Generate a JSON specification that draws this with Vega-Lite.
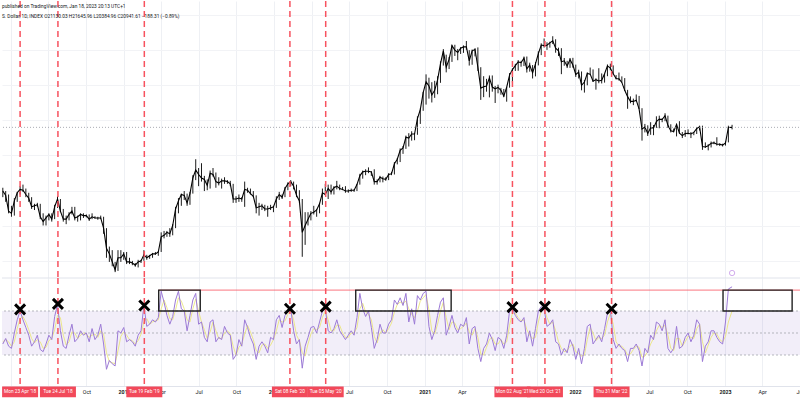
{
"$schema":"https://vega.github.io/schema/vega-lite/v6.json",
"background":"white",
"padding":0,
"spacing":0,
"bounds":"flush",
"config":{"view":{"stroke":null},"font":"Roboto"},
"datasets":{
"price":[
{"d":"2018-03-12","c":9100,"h":9500,"l":8400},
{"d":"2018-03-19","c":8600,"h":9100,"l":7900},
{"d":"2018-03-26","c":7000,"h":8700,"l":6800},
{"d":"2018-04-02","c":6800,"h":7500,"l":6500},
{"d":"2018-04-09","c":8000,"h":8300,"l":6600},
{"d":"2018-04-16","c":8900,"h":9000,"l":7900},
{"d":"2018-04-23","c":9300,"h":9700,"l":8700},
{"d":"2018-04-30","c":9200,"h":9900,"l":9000},
{"d":"2018-05-07","c":8700,"h":9400,"l":8400},
{"d":"2018-05-14","c":8300,"h":8900,"l":7900},
{"d":"2018-05-21","c":7400,"h":8400,"l":7200},
{"d":"2018-05-28","c":7500,"h":7700,"l":7100},
{"d":"2018-06-04","c":7600,"h":7800,"l":7400},
{"d":"2018-06-11","c":6500,"h":7700,"l":6300},
{"d":"2018-06-18","c":6100,"h":6800,"l":5800},
{"d":"2018-06-25","c":6400,"h":6600,"l":5800},
{"d":"2018-07-02","c":6700,"h":6800,"l":6200},
{"d":"2018-07-09","c":6300,"h":6800,"l":6100},
{"d":"2018-07-16","c":7400,"h":7600,"l":6300},
{"d":"2018-07-23","c":8200,"h":8500,"l":7300},
{"d":"2018-07-30","c":7000,"h":8200,"l":6900},
{"d":"2018-08-06","c":6300,"h":7200,"l":6100},
{"d":"2018-08-13","c":6300,"h":6600,"l":5900},
{"d":"2018-08-20","c":6700,"h":6900,"l":6200},
{"d":"2018-08-27","c":7000,"h":7400,"l":6700},
{"d":"2018-09-03","c":6400,"h":7400,"l":6200},
{"d":"2018-09-10","c":6500,"h":6600,"l":6100},
{"d":"2018-09-17","c":6700,"h":6800,"l":6200},
{"d":"2018-09-24","c":6600,"h":6800,"l":6400},
{"d":"2018-10-01","c":6600,"h":6700,"l":6450},
{"d":"2018-10-08","c":6300,"h":6700,"l":6150},
{"d":"2018-10-15","c":6500,"h":6800,"l":6300},
{"d":"2018-10-22","c":6400,"h":6550,"l":6350},
{"d":"2018-10-29","c":6400,"h":6500,"l":6250},
{"d":"2018-11-05","c":6400,"h":6600,"l":6300},
{"d":"2018-11-12","c":5600,"h":6500,"l":5200},
{"d":"2018-11-19","c":4300,"h":5600,"l":3800},
{"d":"2018-11-26","c":4000,"h":4400,"l":3600},
{"d":"2018-12-03","c":3600,"h":4200,"l":3400},
{"d":"2018-12-10","c":3250,"h":3600,"l":3150},
{"d":"2018-12-17","c":3800,"h":4200,"l":3200},
{"d":"2018-12-24","c":3800,"h":4200,"l":3600},
{"d":"2018-12-31","c":4000,"h":4100,"l":3700},
{"d":"2019-01-07","c":3600,"h":4100,"l":3500},
{"d":"2019-01-14","c":3600,"h":3800,"l":3500},
{"d":"2019-01-21","c":3550,"h":3650,"l":3450},
{"d":"2019-01-28","c":3450,"h":3550,"l":3380},
{"d":"2019-02-04","c":3600,"h":3700,"l":3350},
{"d":"2019-02-11","c":3650,"h":3700,"l":3550},
{"d":"2019-02-18","c":3950,"h":4200,"l":3650},
{"d":"2019-02-25","c":3800,"h":3950,"l":3700},
{"d":"2019-03-04","c":3900,"h":3950,"l":3750},
{"d":"2019-03-11","c":4000,"h":4050,"l":3800},
{"d":"2019-03-18","c":4000,"h":4100,"l":3950},
{"d":"2019-03-25","c":4100,"h":4150,"l":3900},
{"d":"2019-04-01","c":5000,"h":5300,"l":4100},
{"d":"2019-04-08","c":5100,"h":5400,"l":4900},
{"d":"2019-04-15","c":5300,"h":5400,"l":5000},
{"d":"2019-04-22","c":5200,"h":5600,"l":5000},
{"d":"2019-04-29","c":5800,"h":5900,"l":5100},
{"d":"2019-05-06","c":7200,"h":7400,"l":5600},
{"d":"2019-05-13","c":8000,"h":8300,"l":6800},
{"d":"2019-05-20","c":8700,"h":8800,"l":7500},
{"d":"2019-05-27","c":8600,"h":9100,"l":8100},
{"d":"2019-06-03","c":7800,"h":8800,"l":7500},
{"d":"2019-06-10","c":8800,"h":9000,"l":7600},
{"d":"2019-06-17","c":10800,"h":11200,"l":8800},
{"d":"2019-06-24","c":12000,"h":13800,"l":10500},
{"d":"2019-07-01","c":11300,"h":12300,"l":9700},
{"d":"2019-07-08","c":10800,"h":13100,"l":10300},
{"d":"2019-07-15","c":10600,"h":11100,"l":9100},
{"d":"2019-07-22","c":9800,"h":10600,"l":9200},
{"d":"2019-07-29","c":11500,"h":11900,"l":9400},
{"d":"2019-08-05","c":11300,"h":12300,"l":11000},
{"d":"2019-08-12","c":10300,"h":11600,"l":9500},
{"d":"2019-08-19","c":10100,"h":10900,"l":9800},
{"d":"2019-08-26","c":10400,"h":10700,"l":9400},
{"d":"2019-09-02","c":10400,"h":10900,"l":10000},
{"d":"2019-09-09","c":10300,"h":10500,"l":10000},
{"d":"2019-09-16","c":10000,"h":10400,"l":9700},
{"d":"2019-09-23","c":8200,"h":10000,"l":7800},
{"d":"2019-09-30","c":8200,"h":8500,"l":7800},
{"d":"2019-10-07","c":8300,"h":8700,"l":7900},
{"d":"2019-10-14","c":8200,"h":8400,"l":7900},
{"d":"2019-10-21","c":9300,"h":10300,"l":7400},
{"d":"2019-10-28","c":9200,"h":9500,"l":8900},
{"d":"2019-11-04","c":8800,"h":9400,"l":8700},
{"d":"2019-11-11","c":8500,"h":9100,"l":8400},
{"d":"2019-11-18","c":7300,"h":8600,"l":6800},
{"d":"2019-11-25","c":7400,"h":7800,"l":6600},
{"d":"2019-12-02","c":7500,"h":7700,"l":7100},
{"d":"2019-12-09","c":7200,"h":7600,"l":7000},
{"d":"2019-12-16","c":7200,"h":7500,"l":6500},
{"d":"2019-12-23","c":7300,"h":7600,"l":7100},
{"d":"2019-12-30","c":7400,"h":7500,"l":6900},
{"d":"2020-01-06","c":8200,"h":8500,"l":7300},
{"d":"2020-01-13","c":8700,"h":9000,"l":8100},
{"d":"2020-01-20","c":8400,"h":8700,"l":8200},
{"d":"2020-01-27","c":9400,"h":9600,"l":8400},
{"d":"2020-02-03","c":10000,"h":10200,"l":9200},
{"d":"2020-02-10","c":10300,"h":10500,"l":9700},
{"d":"2020-02-17","c":9700,"h":10300,"l":9300},
{"d":"2020-02-24","c":8600,"h":9900,"l":8400},
{"d":"2020-03-02","c":8000,"h":9200,"l":7800},
{"d":"2020-03-09","c":5300,"h":8200,"l":3850},
{"d":"2020-03-16","c":5800,"h":6900,"l":4500},
{"d":"2020-03-23","c":6300,"h":6900,"l":5800},
{"d":"2020-03-30","c":6800,"h":7000,"l":6200},
{"d":"2020-04-06","c":6900,"h":7500,"l":6700},
{"d":"2020-04-13","c":7100,"h":7200,"l":6500},
{"d":"2020-04-20","c":7700,"h":7800,"l":6800},
{"d":"2020-04-27","c":8900,"h":9400,"l":7600},
{"d":"2020-05-04","c":8700,"h":10000,"l":8600},
{"d":"2020-05-11","c":9400,"h":9900,"l":8200},
{"d":"2020-05-18","c":9000,"h":9900,"l":8700},
{"d":"2020-05-25","c":9500,"h":9700,"l":8700},
{"d":"2020-06-01","c":9700,"h":10400,"l":9300},
{"d":"2020-06-08","c":9400,"h":9900,"l":9200},
{"d":"2020-06-15","c":9300,"h":9600,"l":9200},
{"d":"2020-06-22","c":9100,"h":9700,"l":8900},
{"d":"2020-06-29","c":9100,"h":9300,"l":8900},
{"d":"2020-07-06","c":9200,"h":9400,"l":9000},
{"d":"2020-07-13","c":9200,"h":9300,"l":9000},
{"d":"2020-07-20","c":9900,"h":10000,"l":9100},
{"d":"2020-07-27","c":11100,"h":11400,"l":9900},
{"d":"2020-08-03","c":11700,"h":11900,"l":10700},
{"d":"2020-08-10","c":11800,"h":12100,"l":11200},
{"d":"2020-08-17","c":11800,"h":12400,"l":11500},
{"d":"2020-08-24","c":11700,"h":11800,"l":11100},
{"d":"2020-08-31","c":10300,"h":12100,"l":9900},
{"d":"2020-09-07","c":10300,"h":10600,"l":9900},
{"d":"2020-09-14","c":10900,"h":11100,"l":10200},
{"d":"2020-09-21","c":10700,"h":11000,"l":10200},
{"d":"2020-09-28","c":10600,"h":10900,"l":10400},
{"d":"2020-10-05","c":11300,"h":11500,"l":10500},
{"d":"2020-10-12","c":11400,"h":11700,"l":11200},
{"d":"2020-10-19","c":13000,"h":13300,"l":11300},
{"d":"2020-10-26","c":13800,"h":14000,"l":12900},
{"d":"2020-11-02","c":15500,"h":15900,"l":13300},
{"d":"2020-11-09","c":16000,"h":16400,"l":14800},
{"d":"2020-11-16","c":18400,"h":18800,"l":15800},
{"d":"2020-11-23","c":18200,"h":19400,"l":16300},
{"d":"2020-11-30","c":19200,"h":19900,"l":17600},
{"d":"2020-12-07","c":19200,"h":19400,"l":17700},
{"d":"2020-12-14","c":23500,"h":24200,"l":19000},
{"d":"2020-12-21","c":26400,"h":26800,"l":21900},
{"d":"2020-12-28","c":33000,"h":33300,"l":26000},
{"d":"2021-01-04","c":38000,"h":41900,"l":28200},
{"d":"2021-01-11","c":36000,"h":40100,"l":30500},
{"d":"2021-01-18","c":32000,"h":37800,"l":29000},
{"d":"2021-01-25","c":34000,"h":38500,"l":30800},
{"d":"2021-02-01","c":39000,"h":40900,"l":32300},
{"d":"2021-02-08","c":48000,"h":49700,"l":37500},
{"d":"2021-02-15","c":57000,"h":58300,"l":47000},
{"d":"2021-02-22","c":46000,"h":54200,"l":43000},
{"d":"2021-03-01","c":51000,"h":52600,"l":44900},
{"d":"2021-03-08","c":61000,"h":61800,"l":49300},
{"d":"2021-03-15","c":57500,"h":61700,"l":53300},
{"d":"2021-03-22","c":55800,"h":58400,"l":50400},
{"d":"2021-03-29","c":59000,"h":59800,"l":54700},
{"d":"2021-04-05","c":60000,"h":61200,"l":55500},
{"d":"2021-04-12","c":60000,"h":64800,"l":57800},
{"d":"2021-04-19","c":50000,"h":57500,"l":47000},
{"d":"2021-04-26","c":57000,"h":58000,"l":47500},
{"d":"2021-05-03","c":58000,"h":59000,"l":53000},
{"d":"2021-05-10","c":46000,"h":59600,"l":43800},
{"d":"2021-05-17","c":35000,"h":46000,"l":30000},
{"d":"2021-05-24","c":35600,"h":40900,"l":31100},
{"d":"2021-05-31","c":36000,"h":39500,"l":33400},
{"d":"2021-06-07","c":40000,"h":41300,"l":31000},
{"d":"2021-06-14","c":35500,"h":41300,"l":33400},
{"d":"2021-06-21","c":34700,"h":36000,"l":28800},
{"d":"2021-06-28","c":35300,"h":36600,"l":32700},
{"d":"2021-07-05","c":34000,"h":35100,"l":32100},
{"d":"2021-07-12","c":31500,"h":34600,"l":31100},
{"d":"2021-07-19","c":35400,"h":35400,"l":29300},
{"d":"2021-07-26","c":41500,"h":42600,"l":35200},
{"d":"2021-08-02","c":44600,"h":45300,"l":37600},
{"d":"2021-08-09","c":47000,"h":48100,"l":43800},
{"d":"2021-08-16","c":49300,"h":50500,"l":43900},
{"d":"2021-08-23","c":48800,"h":50000,"l":46300},
{"d":"2021-08-30","c":51800,"h":52900,"l":46700},
{"d":"2021-09-06","c":45000,"h":52900,"l":42900},
{"d":"2021-09-13","c":47300,"h":48800,"l":43400},
{"d":"2021-09-20","c":42700,"h":47300,"l":39700},
{"d":"2021-09-27","c":48000,"h":49200,"l":40800},
{"d":"2021-10-04","c":55000,"h":56600,"l":47100},
{"d":"2021-10-11","c":61500,"h":62900,"l":53900},
{"d":"2021-10-18","c":61000,"h":67000,"l":59500},
{"d":"2021-10-25","c":61300,"h":63700,"l":57700},
{"d":"2021-11-01","c":63300,"h":64200,"l":59400},
{"d":"2021-11-08","c":65000,"h":69000,"l":62300},
{"d":"2021-11-15","c":59000,"h":66300,"l":55600},
{"d":"2021-11-22","c":57000,"h":59400,"l":53300},
{"d":"2021-11-29","c":49400,"h":59000,"l":42000},
{"d":"2021-12-06","c":50000,"h":51900,"l":46900},
{"d":"2021-12-13","c":46700,"h":50000,"l":45500},
{"d":"2021-12-20","c":50800,"h":51900,"l":45600},
{"d":"2021-12-27","c":47300,"h":52000,"l":45700},
{"d":"2022-01-03","c":41800,"h":47600,"l":40500},
{"d":"2022-01-10","c":43100,"h":44500,"l":39700},
{"d":"2022-01-17","c":36300,"h":43500,"l":34000},
{"d":"2022-01-24","c":37900,"h":38900,"l":33000},
{"d":"2022-01-31","c":42400,"h":43000,"l":36300},
{"d":"2022-02-07","c":42000,"h":45800,"l":41700},
{"d":"2022-02-14","c":38300,"h":44700,"l":38000},
{"d":"2022-02-21","c":39100,"h":39800,"l":34300},
{"d":"2022-02-28","c":38400,"h":45400,"l":37300},
{"d":"2022-03-07","c":38800,"h":42400,"l":37200},
{"d":"2022-03-14","c":42200,"h":42300,"l":37600},
{"d":"2022-03-21","c":46800,"h":47700,"l":40900},
{"d":"2022-03-28","c":45500,"h":48200,"l":44200},
{"d":"2022-04-04","c":42200,"h":47100,"l":41900},
{"d":"2022-04-11","c":39700,"h":41500,"l":39200},
{"d":"2022-04-18","c":39500,"h":42900,"l":38600},
{"d":"2022-04-25","c":37700,"h":40800,"l":37600},
{"d":"2022-05-02","c":34000,"h":39900,"l":33700},
{"d":"2022-05-09","c":31300,"h":34200,"l":26700},
{"d":"2022-05-16","c":29400,"h":31400,"l":28700},
{"d":"2022-05-23","c":29400,"h":30500,"l":28000},
{"d":"2022-05-30","c":29900,"h":32200,"l":29300},
{"d":"2022-06-06","c":26600,"h":31600,"l":26600},
{"d":"2022-06-13","c":20500,"h":26900,"l":17600},
{"d":"2022-06-20","c":21000,"h":21900,"l":19600},
{"d":"2022-06-27","c":19300,"h":21500,"l":18700},
{"d":"2022-07-04","c":20800,"h":22400,"l":19000},
{"d":"2022-07-11","c":20800,"h":21600,"l":18900},
{"d":"2022-07-18","c":22600,"h":24200,"l":20800},
{"d":"2022-07-25","c":23300,"h":24400,"l":20700},
{"d":"2022-08-01","c":23200,"h":23600,"l":22400},
{"d":"2022-08-08","c":24400,"h":25200,"l":22700},
{"d":"2022-08-15","c":21500,"h":24400,"l":20800},
{"d":"2022-08-22","c":20000,"h":21800,"l":19600},
{"d":"2022-08-29","c":19800,"h":20600,"l":19600},
{"d":"2022-09-05","c":21800,"h":21900,"l":18600},
{"d":"2022-09-12","c":19400,"h":22700,"l":19300},
{"d":"2022-09-19","c":18800,"h":19700,"l":18200},
{"d":"2022-09-26","c":19300,"h":20200,"l":18500},
{"d":"2022-10-03","c":19400,"h":20400,"l":19100},
{"d":"2022-10-10","c":19200,"h":19700,"l":18200},
{"d":"2022-10-17","c":19600,"h":19700,"l":18900},
{"d":"2022-10-24","c":20600,"h":21000,"l":19200},
{"d":"2022-10-31","c":21100,"h":21400,"l":20100},
{"d":"2022-11-07","c":16300,"h":21400,"l":15600},
{"d":"2022-11-14","c":16200,"h":17200,"l":16000},
{"d":"2022-11-21","c":16450,"h":16800,"l":15500},
{"d":"2022-11-28","c":17000,"h":17400,"l":16100},
{"d":"2022-12-05","c":17100,"h":17400,"l":16800},
{"d":"2022-12-12","c":16800,"h":18400,"l":16500},
{"d":"2022-12-19","c":16800,"h":17000,"l":16400},
{"d":"2022-12-26","c":16600,"h":16900,"l":16300},
{"d":"2023-01-02","c":17100,"h":17400,"l":16500},
{"d":"2023-01-09","c":20900,"h":21400,"l":17200},
{"d":"2023-01-18","c":20941.61,"h":21645.96,"l":20384.96}
],
"rsi":[
{"d":"2018-03-12","r":40,"m":42},
{"d":"2018-03-19","r":45,"m":44},
{"d":"2018-03-26","r":38,"m":42},
{"d":"2018-04-02","r":36,"m":38},
{"d":"2018-04-09","r":50,"m":42},
{"d":"2018-04-16","r":62,"m":54},
{"d":"2018-04-23","r":70,"m":63},
{"d":"2018-04-30","r":62,"m":65},
{"d":"2018-05-07","r":55,"m":60},
{"d":"2018-05-14","r":48,"m":53},
{"d":"2018-05-21","r":38,"m":45},
{"d":"2018-05-28","r":42,"m":41},
{"d":"2018-06-04","r":48,"m":44},
{"d":"2018-06-11","r":35,"m":42},
{"d":"2018-06-18","r":33,"m":36},
{"d":"2018-06-25","r":40,"m":37},
{"d":"2018-07-02","r":48,"m":43},
{"d":"2018-07-09","r":44,"m":45},
{"d":"2018-07-16","r":65,"m":53},
{"d":"2018-07-23","r":76,"m":66},
{"d":"2018-07-30","r":52,"m":64},
{"d":"2018-08-06","r":38,"m":48},
{"d":"2018-08-13","r":36,"m":39},
{"d":"2018-08-20","r":48,"m":42},
{"d":"2018-08-27","r":58,"m":51},
{"d":"2018-09-03","r":42,"m":50},
{"d":"2018-09-10","r":45,"m":45},
{"d":"2018-09-17","r":52,"m":48},
{"d":"2018-09-24","r":48,"m":50},
{"d":"2018-10-01","r":50,"m":49},
{"d":"2018-10-08","r":42,"m":46},
{"d":"2018-10-15","r":54,"m":48},
{"d":"2018-10-22","r":44,"m":49},
{"d":"2018-10-29","r":48,"m":46},
{"d":"2018-11-05","r":58,"m":52},
{"d":"2018-11-12","r":40,"m":49},
{"d":"2018-11-19","r":17,"m":32},
{"d":"2018-11-26","r":25,"m":24},
{"d":"2018-12-03","r":22,"m":23},
{"d":"2018-12-10","r":20,"m":22},
{"d":"2018-12-17","r":52,"m":34},
{"d":"2018-12-24","r":50,"m":47},
{"d":"2018-12-31","r":55,"m":51},
{"d":"2019-01-07","r":42,"m":48},
{"d":"2019-01-14","r":44,"m":44},
{"d":"2019-01-21","r":42,"m":43},
{"d":"2019-01-28","r":38,"m":40},
{"d":"2019-02-04","r":48,"m":43},
{"d":"2019-02-11","r":52,"m":49},
{"d":"2019-02-18","r":75,"m":60},
{"d":"2019-02-25","r":56,"m":63},
{"d":"2019-03-04","r":58,"m":58},
{"d":"2019-03-11","r":62,"m":60},
{"d":"2019-03-18","r":60,"m":61},
{"d":"2019-03-25","r":64,"m":62},
{"d":"2019-04-01","r":88,"m":72},
{"d":"2019-04-08","r":78,"m":80},
{"d":"2019-04-15","r":66,"m":73},
{"d":"2019-04-22","r":58,"m":63},
{"d":"2019-04-29","r":65,"m":62},
{"d":"2019-05-06","r":80,"m":71},
{"d":"2019-05-13","r":88,"m":82},
{"d":"2019-05-20","r":72,"m":79},
{"d":"2019-05-27","r":70,"m":72},
{"d":"2019-06-03","r":52,"m":62},
{"d":"2019-06-10","r":66,"m":60},
{"d":"2019-06-17","r":80,"m":72},
{"d":"2019-06-24","r":86,"m":81},
{"d":"2019-07-01","r":58,"m":70},
{"d":"2019-07-08","r":60,"m":60},
{"d":"2019-07-15","r":46,"m":53},
{"d":"2019-07-22","r":42,"m":45},
{"d":"2019-07-29","r":60,"m":51},
{"d":"2019-08-05","r":62,"m":60},
{"d":"2019-08-12","r":42,"m":52},
{"d":"2019-08-19","r":46,"m":45},
{"d":"2019-08-26","r":44,"m":45},
{"d":"2019-09-02","r":56,"m":50},
{"d":"2019-09-09","r":50,"m":52},
{"d":"2019-09-16","r":48,"m":49},
{"d":"2019-09-23","r":26,"m":38},
{"d":"2019-09-30","r":30,"m":30},
{"d":"2019-10-07","r":44,"m":37},
{"d":"2019-10-14","r":38,"m":40},
{"d":"2019-10-21","r":62,"m":49},
{"d":"2019-10-28","r":55,"m":57},
{"d":"2019-11-04","r":46,"m":51},
{"d":"2019-11-11","r":40,"m":44},
{"d":"2019-11-18","r":26,"m":34},
{"d":"2019-11-25","r":38,"m":32},
{"d":"2019-12-02","r":42,"m":39},
{"d":"2019-12-09","r":38,"m":40},
{"d":"2019-12-16","r":32,"m":36},
{"d":"2019-12-23","r":46,"m":39},
{"d":"2019-12-30","r":44,"m":44},
{"d":"2020-01-06","r":62,"m":52},
{"d":"2020-01-13","r":66,"m":62},
{"d":"2020-01-20","r":55,"m":60},
{"d":"2020-01-27","r":66,"m":61},
{"d":"2020-02-03","r":70,"m":67},
{"d":"2020-02-10","r":72,"m":70},
{"d":"2020-02-17","r":52,"m":62},
{"d":"2020-02-24","r":40,"m":48},
{"d":"2020-03-02","r":44,"m":43},
{"d":"2020-03-09","r":18,"m":32},
{"d":"2020-03-16","r":38,"m":29},
{"d":"2020-03-23","r":46,"m":40},
{"d":"2020-03-30","r":55,"m":49},
{"d":"2020-04-06","r":56,"m":54},
{"d":"2020-04-13","r":50,"m":53},
{"d":"2020-04-20","r":60,"m":55},
{"d":"2020-04-27","r":70,"m":64},
{"d":"2020-05-04","r":72,"m":70},
{"d":"2020-05-11","r":52,"m":62},
{"d":"2020-05-18","r":50,"m":52},
{"d":"2020-05-25","r":54,"m":52},
{"d":"2020-06-01","r":62,"m":57},
{"d":"2020-06-08","r":52,"m":57},
{"d":"2020-06-15","r":48,"m":50},
{"d":"2020-06-22","r":44,"m":46},
{"d":"2020-06-29","r":48,"m":46},
{"d":"2020-07-06","r":52,"m":50},
{"d":"2020-07-13","r":48,"m":50},
{"d":"2020-07-20","r":64,"m":55},
{"d":"2020-07-27","r":86,"m":72},
{"d":"2020-08-03","r":72,"m":77},
{"d":"2020-08-10","r":65,"m":69},
{"d":"2020-08-17","r":70,"m":67},
{"d":"2020-08-24","r":55,"m":62},
{"d":"2020-08-31","r":36,"m":47},
{"d":"2020-09-07","r":44,"m":41},
{"d":"2020-09-14","r":58,"m":50},
{"d":"2020-09-21","r":50,"m":53},
{"d":"2020-09-28","r":50,"m":50},
{"d":"2020-10-05","r":58,"m":54},
{"d":"2020-10-12","r":62,"m":59},
{"d":"2020-10-19","r":80,"m":69},
{"d":"2020-10-26","r":76,"m":76},
{"d":"2020-11-02","r":82,"m":78},
{"d":"2020-11-09","r":75,"m":77},
{"d":"2020-11-16","r":86,"m":79},
{"d":"2020-11-23","r":60,"m":72},
{"d":"2020-11-30","r":72,"m":67},
{"d":"2020-12-07","r":58,"m":64},
{"d":"2020-12-14","r":84,"m":70},
{"d":"2020-12-21","r":80,"m":79},
{"d":"2020-12-28","r":86,"m":82},
{"d":"2021-01-04","r":88,"m":85},
{"d":"2021-01-11","r":56,"m":71},
{"d":"2021-01-18","r":44,"m":52},
{"d":"2021-01-25","r":52,"m":49},
{"d":"2021-02-01","r":66,"m":58},
{"d":"2021-02-08","r":78,"m":70},
{"d":"2021-02-15","r":82,"m":78},
{"d":"2021-02-22","r":48,"m":64},
{"d":"2021-03-01","r":56,"m":53},
{"d":"2021-03-08","r":66,"m":60},
{"d":"2021-03-15","r":55,"m":59},
{"d":"2021-03-22","r":50,"m":53},
{"d":"2021-03-29","r":58,"m":54},
{"d":"2021-04-05","r":56,"m":56},
{"d":"2021-04-12","r":64,"m":59},
{"d":"2021-04-19","r":40,"m":51},
{"d":"2021-04-26","r":54,"m":48},
{"d":"2021-05-03","r":56,"m":54},
{"d":"2021-05-10","r":36,"m":46},
{"d":"2021-05-17","r":24,"m":31},
{"d":"2021-05-24","r":36,"m":30},
{"d":"2021-05-31","r":40,"m":37},
{"d":"2021-06-07","r":50,"m":44},
{"d":"2021-06-14","r":44,"m":46},
{"d":"2021-06-21","r":34,"m":40},
{"d":"2021-06-28","r":46,"m":40},
{"d":"2021-07-05","r":44,"m":44},
{"d":"2021-07-12","r":36,"m":40},
{"d":"2021-07-19","r":48,"m":42},
{"d":"2021-07-26","r":70,"m":57},
{"d":"2021-08-02","r":72,"m":68},
{"d":"2021-08-09","r":66,"m":68},
{"d":"2021-08-16","r":62,"m":64},
{"d":"2021-08-23","r":60,"m":61},
{"d":"2021-08-30","r":64,"m":62},
{"d":"2021-09-06","r":42,"m":53},
{"d":"2021-09-13","r":52,"m":48},
{"d":"2021-09-20","r":38,"m":45},
{"d":"2021-09-27","r":54,"m":46},
{"d":"2021-10-04","r":70,"m":60},
{"d":"2021-10-11","r":74,"m":70},
{"d":"2021-10-18","r":72,"m":72},
{"d":"2021-10-25","r":56,"m":64},
{"d":"2021-11-01","r":58,"m":58},
{"d":"2021-11-08","r":62,"m":60},
{"d":"2021-11-15","r":42,"m":52},
{"d":"2021-11-22","r":40,"m":42},
{"d":"2021-11-29","r":30,"m":36},
{"d":"2021-12-06","r":36,"m":33},
{"d":"2021-12-13","r":32,"m":34},
{"d":"2021-12-20","r":44,"m":38},
{"d":"2021-12-27","r":38,"m":40},
{"d":"2022-01-03","r":26,"m":33},
{"d":"2022-01-10","r":36,"m":31},
{"d":"2022-01-17","r":22,"m":29},
{"d":"2022-01-24","r":36,"m":30},
{"d":"2022-01-31","r":56,"m":44},
{"d":"2022-02-07","r":58,"m":55},
{"d":"2022-02-14","r":40,"m":50},
{"d":"2022-02-21","r":44,"m":43},
{"d":"2022-02-28","r":48,"m":46},
{"d":"2022-03-07","r":42,"m":45},
{"d":"2022-03-14","r":54,"m":48},
{"d":"2022-03-21","r":68,"m":60},
{"d":"2022-03-28","r":72,"m":68},
{"d":"2022-04-04","r":44,"m":58},
{"d":"2022-04-11","r":36,"m":42},
{"d":"2022-04-18","r":40,"m":38},
{"d":"2022-04-25","r":36,"m":38},
{"d":"2022-05-02","r":34,"m":35},
{"d":"2022-05-09","r":24,"m":30},
{"d":"2022-05-16","r":36,"m":31},
{"d":"2022-05-23","r":36,"m":35},
{"d":"2022-05-30","r":40,"m":38},
{"d":"2022-06-06","r":34,"m":37},
{"d":"2022-06-13","r":20,"m":28},
{"d":"2022-06-20","r":36,"m":29},
{"d":"2022-06-27","r":32,"m":33},
{"d":"2022-07-04","r":48,"m":40},
{"d":"2022-07-11","r":44,"m":45},
{"d":"2022-07-18","r":60,"m":52},
{"d":"2022-07-25","r":58,"m":57},
{"d":"2022-08-01","r":52,"m":55},
{"d":"2022-08-08","r":62,"m":57},
{"d":"2022-08-15","r":36,"m":48},
{"d":"2022-08-22","r":32,"m":36},
{"d":"2022-08-29","r":36,"m":34},
{"d":"2022-09-05","r":56,"m":45},
{"d":"2022-09-12","r":36,"m":45},
{"d":"2022-09-19","r":38,"m":38},
{"d":"2022-09-26","r":46,"m":42},
{"d":"2022-10-03","r":50,"m":47},
{"d":"2022-10-10","r":42,"m":46},
{"d":"2022-10-17","r":48,"m":45},
{"d":"2022-10-24","r":62,"m":54},
{"d":"2022-10-31","r":58,"m":58},
{"d":"2022-11-07","r":24,"m":42},
{"d":"2022-11-14","r":38,"m":32},
{"d":"2022-11-21","r":42,"m":39},
{"d":"2022-11-28","r":52,"m":46},
{"d":"2022-12-05","r":52,"m":50},
{"d":"2022-12-12","r":46,"m":49},
{"d":"2022-12-19","r":42,"m":44},
{"d":"2022-12-26","r":40,"m":42},
{"d":"2023-01-02","r":60,"m":47},
{"d":"2023-01-09","r":90,"m":60},
{"d":"2023-01-18","r":92,"m":70}
],
"events":[
{"d":"2018-04-23","lab":"Mon 23 Apr '18","xv":71.5},
{"d":"2018-07-24","lab":"Tue 24 Jul '18","xv":76.5},
{"d":"2019-02-19","lab":"Tue 19 Feb '19","xv":75},
{"d":"2020-02-08","lab":"Sat 08 Feb '20","xv":72},
{"d":"2020-05-05","lab":"Tue 05 May '20","xv":74},
{"d":"2021-08-02","lab":"Mon 02 Aug '21","xv":73.5},
{"d":"2021-10-20","lab":"Wed 20 Oct '21","xv":74},
{"d":"2022-03-31","lab":"Thu 31 Mar '22","xv":72}
],
"boxes":[
{"s":"2019-03-26","e":"2019-07-05"},
{"s":"2020-07-17","e":"2021-03-06"},
{"s":"2022-12-27","e":"2023-06-13"}
],
"levels":[{"v":70},{"v":50},{"v":30}],
"ray":[{"s":"2019-03-26","e":"2023-07-07","v":89}],
"last":[{"p":20941.61}],
"icon":[{"d":"2023-01-18","p":3114}]
},
"vconcat":[
{
"width":800,"height":277,
"title":{"text":["published on TradingView.com, Jan 18, 2023 20:13 UTC+1","S. Dollar, 1D, INDEX  O21130.03 H21645.96 L20384.96 C20941.61 −188.31 (−0.89%)"],"anchor":"start","frame":"group","orient":"top","offset":-19,"fontSize":4.8,"fontWeight":"normal","color":"#131722","lineHeight":10,"font":"Roboto"},
"layer":[
{"data":{"name":"price"},"mark":{"type":"rule","color":"#000","strokeWidth":0.9},
 "encoding":{
  "x":{"field":"d","type":"temporal","title":null,"scale":{"type":"utc","domain":[{"year":2018,"month":3,"date":10,"utc":true},{"year":2023,"month":7,"date":7,"utc":true}]},"axis":{"title":null,"labels":false,"ticks":false,"domain":false,"grid":true,"gridColor":"#eef0f4","tickCount":{"interval":"month","step":3}}},
  "y":{"field":"l","type":"quantitative","title":null,"scale":{"type":"log","domain":[2917,109400]},"axis":{"title":null,"labels":false,"ticks":false,"domain":false,"grid":true,"gridColor":"#f2f3f6","values":[3650,5780,9160,14520,23010,36470,57800,91600]}},
  "y2":{"field":"h"}}},
{"data":{"name":"price"},"mark":{"type":"line","color":"#000","strokeWidth":1.1},
 "encoding":{
  "x":{"field":"d","type":"temporal","title":null,"scale":{"type":"utc","domain":[{"year":2018,"month":3,"date":10,"utc":true},{"year":2023,"month":7,"date":7,"utc":true}]}},
  "y":{"field":"c","type":"quantitative","title":null,"scale":{"type":"log","domain":[2917,109400]}}}},
{"data":{"name":"last"},"mark":{"type":"rule","color":"#9598a1","strokeWidth":0.8,"strokeDash":[1,2]},
 "encoding":{"y":{"field":"p","type":"quantitative","title":null,"scale":{"type":"log","domain":[2917,109400]}}}},
{"data":{"name":"events"},"mark":{"type":"rule","color":"#f7525f","strokeWidth":1.5,"strokeDash":[6,4]},
 "encoding":{"x":{"field":"d","type":"temporal","title":null,"scale":{"type":"utc","domain":[{"year":2018,"month":3,"date":10,"utc":true},{"year":2023,"month":7,"date":7,"utc":true}]}}}},
{"data":{"name":"icon"},"mark":{"type":"point","shape":"circle","filled":false,"color":"#b06ee0","strokeWidth":0.8,"size":28},
 "encoding":{
  "x":{"field":"d","type":"temporal","title":null,"scale":{"type":"utc","domain":[{"year":2018,"month":3,"date":10,"utc":true},{"year":2023,"month":7,"date":7,"utc":true}]}},
  "y":{"field":"p","type":"quantitative","title":null,"scale":{"type":"log","domain":[2917,109400]}}}}
]
},
{
"width":800,"height":108,
"layer":[
{"data":{"name":"rsi"},"mark":{"type":"line","color":"#e6df6e","strokeWidth":1,"opacity":0},
 "encoding":{
  "x":{"field":"d","type":"temporal","title":null,"scale":{"type":"utc","domain":[{"year":2018,"month":3,"date":10,"utc":true},{"year":2023,"month":7,"date":7,"utc":true}]},"axis":{"title":null,"grid":true,"gridColor":"#eef0f4","tickCount":{"interval":"month","step":3},"ticks":false,"domain":true,"domainColor":"#e0e3eb","labelFontSize":5.3,"labelColor":"#131722","labelPadding":3,"labelFont":"Roboto","labelFlush":false,"labelOverlap":false,"labelExpr":"utcmonth(datum.value) == 0 ? utcFormat(datum.value, '%Y') : utcFormat(datum.value, '%b')","labelFontWeight":{"condition":{"test":"utcmonth(datum.value) == 0","value":"bold"},"value":"normal"}}},
  "y":{"field":"m","type":"quantitative","title":null,"scale":{"domain":[1.8,100]},"axis":null}}},
{"data":{"name":"levels"},"transform":[{"filter":"datum.v == 50"}],"mark":{"type":"rect","color":"#7e57c2","opacity":0.1},
 "encoding":{"y":{"datum":30,"type":"quantitative","scale":{"domain":[1.8,100]},"axis":null},"y2":{"datum":70}}},
{"data":{"name":"levels"},"mark":{"type":"rule","color":"#a3a6af","strokeWidth":0.8,"strokeDash":[2,2]},
 "encoding":{"y":{"field":"v","type":"quantitative","title":null,"scale":{"domain":[1.8,100]},"axis":null}}},
{"data":{"name":"ray"},"mark":{"type":"rule","color":"#e0e3eb","strokeWidth":1},
 "encoding":{"y":{"datum":100,"type":"quantitative","scale":{"domain":[1.8,100]},"axis":null}}},
{"data":{"name":"rsi"},"mark":{"type":"line","color":"#ebe57f","strokeWidth":1,"opacity":0.9},
 "encoding":{
  "x":{"field":"d","type":"temporal","title":null,"scale":{"type":"utc","domain":[{"year":2018,"month":3,"date":10,"utc":true},{"year":2023,"month":7,"date":7,"utc":true}]}},
  "y":{"field":"m","type":"quantitative","title":null,"scale":{"domain":[1.8,100]},"axis":null}}},
{"data":{"name":"rsi"},"mark":{"type":"line","color":"#9c7ad6","strokeWidth":1},
 "encoding":{
  "x":{"field":"d","type":"temporal","title":null,"scale":{"type":"utc","domain":[{"year":2018,"month":3,"date":10,"utc":true},{"year":2023,"month":7,"date":7,"utc":true}]}},
  "y":{"field":"r","type":"quantitative","title":null,"scale":{"domain":[1.8,100]},"axis":null}}},
{"data":{"name":"ray"},"mark":{"type":"rule","color":"#f7525f","strokeWidth":1,"opacity":0.8},
 "encoding":{
  "x":{"field":"s","type":"temporal","title":null,"scale":{"type":"utc","domain":[{"year":2018,"month":3,"date":10,"utc":true},{"year":2023,"month":7,"date":7,"utc":true}]}},
  "x2":{"field":"e"},
  "y":{"field":"v","type":"quantitative","title":null,"scale":{"domain":[1.8,100]},"axis":null}}},
{"data":{"name":"boxes"},"mark":{"type":"rect","fill":null,"fillOpacity":0,"stroke":"#222","strokeWidth":1.4},
 "encoding":{
  "x":{"field":"s","type":"temporal","title":null,"scale":{"type":"utc","domain":[{"year":2018,"month":3,"date":10,"utc":true},{"year":2023,"month":7,"date":7,"utc":true}]}},
  "x2":{"field":"e"},
  "y":{"datum":70,"type":"quantitative","scale":{"domain":[1.8,100]},"axis":null},
  "y2":{"datum":89}}},
{"data":{"name":"events"},"mark":{"type":"rule","color":"#f7525f","strokeWidth":1.5,"strokeDash":[6,4]},
 "encoding":{"x":{"field":"d","type":"temporal","title":null,"scale":{"type":"utc","domain":[{"year":2018,"month":3,"date":10,"utc":true},{"year":2023,"month":7,"date":7,"utc":true}]}}}},
{"data":{"name":"events"},"mark":{"type":"point","shape":"M-1,-1L1,1M-1,1L1,-1","filled":false,"stroke":"#000","strokeWidth":3,"size":100,"opacity":1},
 "encoding":{
  "x":{"field":"d","type":"temporal","title":null,"scale":{"type":"utc","domain":[{"year":2018,"month":3,"date":10,"utc":true},{"year":2023,"month":7,"date":7,"utc":true}]}},
  "y":{"field":"xv","type":"quantitative","title":null,"scale":{"domain":[1.8,100]},"axis":null}}},
{"data":{"name":"events"},"mark":{"type":"point","shape":"M-1,-0.3L1,-0.3L1,0.3L-1,0.3Z","filled":true,"color":"#f2495a","opacity":1,"strokeWidth":0,"size":1296},
 "encoding":{
  "x":{"field":"d","type":"temporal","title":null,"scale":{"type":"utc","domain":[{"year":2018,"month":3,"date":10,"utc":true},{"year":2023,"month":7,"date":7,"utc":true}]}},
  "y":{"datum":-3.6,"type":"quantitative","scale":{"domain":[1.8,100]},"axis":null}}},
{"data":{"name":"events"},"mark":{"type":"text","color":"white","fontSize":4.8,"font":"Roboto","baseline":"middle","align":"center"},
 "encoding":{
  "x":{"field":"d","type":"temporal","title":null,"scale":{"type":"utc","domain":[{"year":2018,"month":3,"date":10,"utc":true},{"year":2023,"month":7,"date":7,"utc":true}]}},
  "y":{"datum":-3.6,"type":"quantitative","scale":{"domain":[1.8,100]},"axis":null},
  "text":{"field":"lab"}}}
]
}
]
}
